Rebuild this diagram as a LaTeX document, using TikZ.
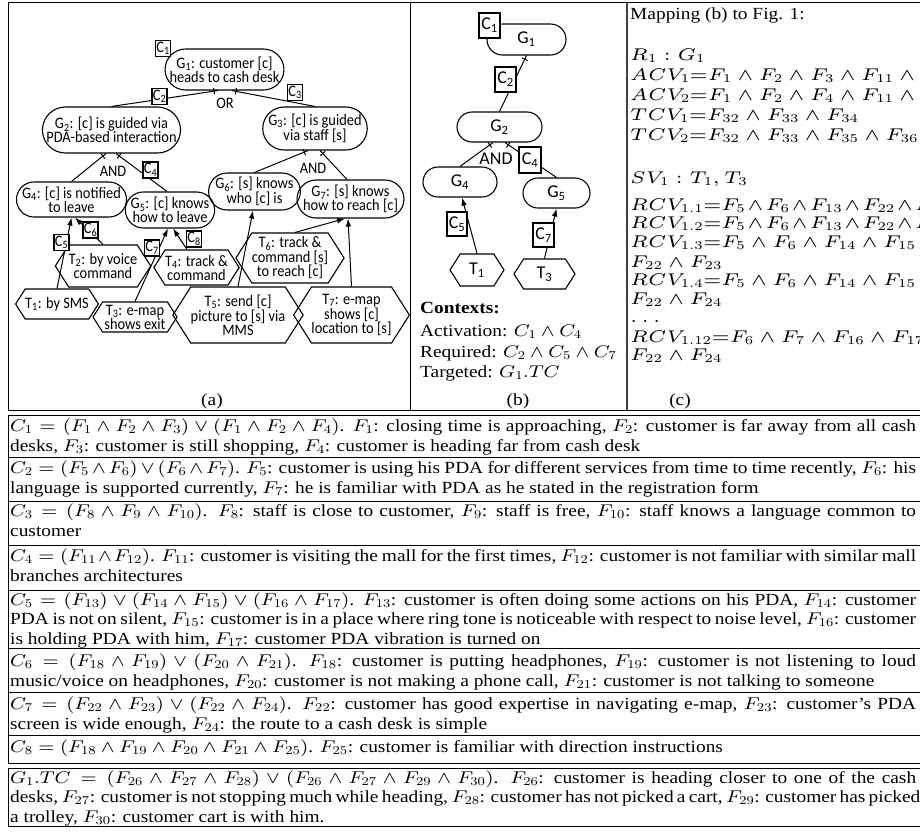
\documentclass[tikz,border=0pt]{standalone}
\usepackage[no-math]{fontspec}
\setmainfont{Liberation Serif}
\newfontfamily\carl[FakeStretch=0.9]{Carlito}
\newfontfamily\carlb{Carlito}
\usepackage{graphicx}
\usetikzlibrary{shapes.misc,shapes.symbols,arrows.meta,calc}
\DeclareFontShape{OML}{cmm}{m}{it}{<17><12><9>cmmi8 <17.01><12.01><9.01>cmmi6 <->cmmi10}{\skewchar\font=127 }
\DeclareFontShape{OT1}{cmr}{m}{n}{<17><12><9>cmr8 <17.01><12.01><9.01>cmr6 <->cmr10}{}
\DeclareFontShape{OMS}{cmsy}{m}{n}{<17><12><9>cmsy8 <17.01><12.01><9.01>cmsy6 <->cmsy10}{\skewchar\font=48 }
\DeclareMathSizes{17}{17}{12}{9}
\DeclareMathSizes{17.01}{17.01}{12.01}{9.01}

\newcommand\hs{1.14}
\newcommand\tfont{\fontsize{17}{20.5}\selectfont}
\newcommand\tfontb{\fontsize{17}{19.5}\selectfont}
\newcommand\cfont{\fontsize{17.01}{20.5}\selectfont}
\newcommand\jl[1]{\makebox[\linewidth][s]{#1}}
\newcommand\hsc[1]{\scalebox{\hs}[1]{#1}}
\newcommand\rowtext[1]{\hsc{\parbox[t]{794.7pt}{#1}}}
\newcommand\sbs[1]{\textsubscript{#1}}
\newcommand\tw{\mskip1.5mu{\wedge}\mskip1.5mu}
\newcommand\tickat[2]{\draw[link] ($(#1)!4pt!(#2)!3.2pt!90:(#2)$) -- ($(#1)!4pt!(#2)!3.2pt!-90:(#2)$);}

\tikzset{
  link/.style={line width=1pt},
  arr/.style={link,-{Latex[length=8pt,width=5.5pt]}},
  goal/.style={rounded rectangle, draw, line width=1.1pt, inner sep=0pt, align=center,
    font=\carl\fontsize{16}{14}\selectfont},
  task/.style={signal, signal to=west and east, signal pointer angle=115, draw, line width=1.1pt,
    inner sep=0pt, align=center, font=\carl\fontsize{16}{14}\selectfont},
  ctx/.style={rectangle, draw, fill=white, line width=1.1pt, inner sep=0pt,
    minimum width=15pt, minimum height=16pt, font=\carl\fontsize{16}{14}\selectfont},
  lbl/.style={inner sep=0pt, font=\carl\fontsize{16}{14}\selectfont},
  bgoal/.style={goal, font=\carlb\fontsize{18}{18}\selectfont},
  btask/.style={task, font=\carlb\fontsize{18}{18}\selectfont},
  bctx/.style={ctx, minimum width=21pt, minimum height=25pt, font=\carlb\fontsize{18}{18}\selectfont},
  blbl/.style={lbl, font=\carlb\fontsize{18}{18}\selectfont},
  txt/.style={inner sep=0pt, anchor=base west, font=\tfont},
  ctxt/.style={txt, font=\cfont},
  frame/.style={line width=0.8pt},
}

\begin{document}
\begin{tikzpicture}[x=1pt,y=-1pt]
\useasboundingbox (0,0) rectangle (920,836);

% ---------- frames ----------
\draw[frame] (8,2) rectangle (925,410);
\draw[frame] (410,2) -- (410,410);
\draw[line width=1.4pt, black!75] (627,2) -- (627,410);
\draw[frame] (8,415) rectangle (925,763);
\foreach \yy in {457.7,501.7,545,590,648,692,735}{\draw[frame] (8,\yy) -- (925,\yy);}
\draw[frame] (8,768) rectangle (925,826);

% ---------- panel (a) ----------
\node[goal, minimum width=115pt, minimum height=41pt] (G1) at (224.5,69.5) {G\sbs{1}: customer [c]\\heads to cash desk};
\node[goal, minimum width=137pt, minimum height=46pt] (G2) at (111.5,130) {G\sbs{2}: [c] is guided via\\PDA-based interaction};
\node[goal, minimum width=94pt, minimum height=43pt] (G3) at (315,128.5) {G\sbs{3}: [c] is guided\\via staff [s]};
\node[goal, minimum width=103pt, minimum height=35pt] (G4) at (71.5,199.5) {G\sbs{4}: [c] is notified\\to leave};
\node[goal, minimum width=86pt, minimum height=36pt] (G5) at (170,210) {G\sbs{5}: [c] knows\\how to leave};
\node[goal, minimum width=85pt, minimum height=37pt] (G6) at (254.5,191.5) {G\sbs{6}: [s] knows\\who [c] is};
\node[goal, minimum width=105pt, minimum height=38pt] (G7) at (350.5,199) {G\sbs{7}: [s] knows\\how to reach [c]};

\node[task, minimum width=82pt, minimum height=30pt] (T1) at (57,304) {T\sbs{1}: by SMS};
\node[task, minimum width=80pt, minimum height=42pt] (T2) at (103,266) {T\sbs{2}: by voice\\command};
\node[task, minimum width=84pt, minimum height=30pt] (T3) at (135,317) {T\sbs{3}: e-map\\shows exit};
\node[task, minimum width=83pt, minimum height=35pt] (T4) at (196.5,267.5) {T\sbs{4}: track \&\\command};
\node[task, minimum width=98pt, minimum height=56pt] (T5) at (238,315) {T\sbs{5}: send [c]\\picture to [s] via\\MMS};
\node[task, minimum width=84pt, minimum height=50pt] (T6) at (290,258) {T\sbs{6}: track \&\\command [s]\\to reach [c]};
\node[task, minimum width=89pt, minimum height=56pt] (T7) at (351.5,315) {T\sbs{7}: e-map\\shows [c]\\location to [s]};

\coordinate (a12) at ([xshift=-6.5pt]G1.south);
\coordinate (a13) at ([xshift=7.5pt]G1.south);
\coordinate (a24) at ([xshift=-5.5pt]G2.south);
\coordinate (a25) at ([xshift=4.5pt]G2.south);
\coordinate (a36) at ([xshift=-7pt]G3.south);
\coordinate (a37) at ([xshift=5pt]G3.south);
\coordinate (e25) at ([xshift=-3pt]G5.north);
\coordinate (e37) at ([xshift=-3.5pt]G7.north);

\draw[link] (a12) -- (G2.north); \tickat{a12}{G2.north}
\draw[link] (a13) -- (G3.north); \tickat{a13}{G3.north}
\draw[link] (a24) -- (G4.north); \tickat{a24}{G4.north}
\draw[link] (a25) -- (e25);      \tickat{a25}{e25}
\draw[link] (a36) -- (G6.north); \tickat{a36}{G6.north}
\draw[link] (a37) -- (e37);      \tickat{a37}{e37}

\draw[arr] (T1.north) -- (G4.south);
\draw[arr] (T2.north) -- ([xshift=3.5pt]G4.south);
\draw[arr] (T3.north) -- ([xshift=-2pt]G5.south);
\draw[arr] ([xshift=-9.5pt]T4.north) -- ([xshift=3pt]G5.south);
\draw[arr] (T5.north) -- ([xshift=-1.5pt]G6.south);
\draw[arr] ([xshift=5pt]T6.north) -- ([xshift=-5.5pt]G7.south);
\draw[arr] (T7.north) -- ([xshift=-2.5pt]G7.south);

\node[lbl] (OR) at (225,103) {OR};
\node[lbl] (AND1) at (113,171) {AND};
\node[lbl] (AND2) at (313,168) {AND};

\node[ctx] (C1a) at (163,48.5) {C\sbs{1}};
\node[ctx] (C2a) at (159.5,96.5) {C\sbs{2}};
\node[ctx] (C3a) at (295,92.5) {C\sbs{3}};
\node[ctx] (C4a) at (150.5,170) {C\sbs{4}};
\node[ctx] (C5a) at (61.5,242.5) {C\sbs{5}};
\node[ctx] (C6a) at (90.5,230) {C\sbs{6}};
\node[ctx] (C7a) at (152,248) {C\sbs{7}};
\node[ctx] (C8a) at (194,239) {C\sbs{8}};

\node[inner sep=0pt, anchor=base, font=\tfont] (capa) at (212,405) {\hsc{(a)}};

% ---------- panel (b) ----------
\node[bgoal, minimum width=79pt, minimum height=31pt] (bG1) at (526.5,39.5) {G\sbs{1}};
\node[bgoal, minimum width=85pt, minimum height=30pt] (bG2) at (499.5,127) {G\sbs{2}};
\node[bgoal, minimum width=74pt, minimum height=30pt] (bG4) at (460,182) {G\sbs{4}};
\node[bgoal, minimum width=67pt, minimum height=30pt] (bG5) at (556.5,193) {G\sbs{5}};
\node[btask, minimum width=54pt, minimum height=32pt] (bT1) at (477,270) {T\sbs{1}};
\node[btask, minimum width=61pt, minimum height=30pt] (bT3) at (544.5,274) {T\sbs{3}};

\coordinate (b24) at ([xshift=-6.5pt]bG2.south);
\coordinate (b25) at ([xshift=5.5pt]bG2.south);
\draw[link] (bG1.south) -- (bG2.north); \tickat{bG1.south}{bG2.north}
\draw[link] (b24) -- (bG4.north); \tickat{b24}{bG4.north}
\draw[link] (b25) -- (bG5.north); \tickat{b25}{bG5.north}
\draw[arr] (bT1.north) -- ([xshift=2pt]bG4.south);
\draw[arr] (bT3.north) -- (bG5.south);

\node[blbl] (bAND) at (496,159) {AND};
\node[bctx] (bC1) at (489.5,25.5) {C\sbs{1}};
\node[bctx] (bC2) at (505.5,79.5) {C\sbs{2}};
\node[bctx, minimum width=22pt, minimum height=26pt] (bC4) at (530,160) {C\sbs{4}};
\node[bctx, minimum width=20pt, minimum height=24pt] (bC5) at (457,224) {C\sbs{5}};
\node[bctx, minimum height=24pt] (bC7) at (543.5,235) {C\sbs{7}};

\node[txt] (ctxh) at (420,313) {\hsc{\textbf{Contexts:}}};
\node[txt] (ctxa) at (420,336) {\hsc{Activation: $C_1 \wedge C_4$}};
\node[txt] (ctxr) at (420,357) {\hsc{Required: $C_2 \wedge C_5 \wedge C_7$}};
\node[txt] (ctxt) at (420,377) {\hsc{Targeted: $G_1.TC$}};
\node[inner sep=0pt, anchor=base, font=\tfont] (capb) at (518,405) {\hsc{(b)}};

% ---------- panel (c) ----------
\node[ctxt] (m0) at (630,19) {\hsc{Mapping (b) to Fig. 1:}};
\node[ctxt] (m1) at (630,60) {\hsc{$R_1 : G_1$}};
\node[ctxt] (m2) at (630,80) {\hsc{$ACV_1{=}F_1 \wedge F_2 \wedge F_3 \wedge F_{11} \wedge F_{12}$}};
\node[ctxt] (m3) at (630,100) {\hsc{$ACV_2{=}F_1 \wedge F_2 \wedge F_4 \wedge F_{11} \wedge F_{12}$}};
\node[ctxt] (m4) at (630,120) {\hsc{$TCV_1{=}F_{32} \wedge F_{33} \wedge F_{34}$}};
\node[ctxt] (m5) at (630,140) {\hsc{$TCV_2{=}F_{32} \wedge F_{33} \wedge F_{35} \wedge F_{36}$}};
\node[ctxt] (m6) at (630,183) {\hsc{$SV_1 : T_1, T_3$}};
\node[ctxt] (m7) at (630,210) {\hsc{$RCV_{1.1}{=}F_5\tw F_6\tw F_{13}\tw F_{22}\tw F_{23}$}};
\node[ctxt] (m8) at (630,228) {\hsc{$RCV_{1.2}{=}F_5\tw F_6\tw F_{13}\tw F_{22}\tw F_{24}$}};
\node[ctxt] (m9) at (630,247) {\hsc{$RCV_{1.3}{=}F_5 \wedge F_6 \wedge F_{14} \wedge F_{15} \wedge{}$}};
\node[ctxt] (m10) at (630,267) {\hsc{$F_{22} \wedge F_{23}$}};
\node[ctxt] (m11) at (630,285) {\hsc{$RCV_{1.4}{=}F_5 \wedge F_6 \wedge F_{14} \wedge F_{15} \wedge{}$}};
\node[ctxt] (m12) at (630,304) {\hsc{$F_{22} \wedge F_{24}$}};
\node[ctxt] (m13) at (630,322) {\hsc{$\ldots$}};
\node[ctxt] (m14) at (630,342) {\hsc{$RCV_{1.12}{=}F_6 \wedge F_7 \wedge F_{16} \wedge F_{17} \wedge{}$}};
\node[ctxt] (m15) at (630,360) {\hsc{$F_{22} \wedge F_{24}$}};
\node[inner sep=0pt, anchor=base, font=\tfont] (capc) at (680,405) {\hsc{(c)}};

% ---------- table ----------
\node[txt] (r1) at (10,431) {\rowtext{\tfont
\jl{$C_1 = (F_1 \wedge F_2 \wedge F_3) \vee (F_1 \wedge F_2 \wedge F_4)$. $F_1$: closing time is approaching, $F_2$: customer is far away from all cash}\\
desks, $F_3$: customer is still shopping, $F_4$: customer is heading far from cash desk}};
\node[txt] (r2) at (10,473) {\rowtext{\tfont
\jl{$C_2 = (F_5 \wedge F_6) \vee (F_6 \wedge F_7)$. $F_5$: customer is using his PDA for different services from time to time recently, $F_6$: his}\\
language is supported currently, $F_7$: he is familiar with PDA as he stated in the registration form}};
\node[txt] (r3) at (10,516) {\rowtext{\tfont
\jl{$C_3 = (F_8 \wedge F_9 \wedge F_{10})$. $F_8$: staff is close to customer, $F_9$: staff is free, $F_{10}$: staff knows a language common to}\\
customer}};
\node[txt] (r4) at (10,561) {\rowtext{\tfont
\jl{$C_4 = (F_{11} \wedge F_{12})$. $F_{11}$: customer is visiting the mall for the first times, $F_{12}$: customer is not familiar with similar mall}\\
branches architectures}};
\node[txt] (r5) at (10,605) {\rowtext{\tfontb
\jl{$C_5 = (F_{13}) \vee (F_{14} \wedge F_{15}) \vee (F_{16} \wedge F_{17})$. $F_{13}$: customer is often doing some actions on his PDA, $F_{14}$: customer}\\
\jl{PDA is not on silent, $F_{15}$: customer is in a place where ring tone is noticeable with respect to noise level, $F_{16}$: customer}\\
is holding PDA with him, $F_{17}$: customer PDA vibration is turned on}};
\node[txt] (r6) at (10,666) {\rowtext{\tfont
\jl{$C_6 = (F_{18} \wedge F_{19}) \vee (F_{20} \wedge F_{21})$. $F_{18}$: customer is putting headphones, $F_{19}$: customer is not listening to loud}\\
music/voice on headphones, $F_{20}$: customer is not making a phone call, $F_{21}$: customer is not talking to someone}};
\node[txt] (r7) at (10,709) {\rowtext{\tfont
\jl{$C_7 = (F_{22} \wedge F_{23}) \vee (F_{22} \wedge F_{24})$. $F_{22}$: customer has good expertise in navigating e-map, $F_{23}$: customer's PDA}\\
screen is wide enough, $F_{24}$: the route to a cash desk is simple}};
\node[txt] (r8) at (10,752) {\rowtext{\tfont
$C_8 = (F_{18} \wedge F_{19} \wedge F_{20} \wedge F_{21} \wedge F_{25})$. $F_{25}$: customer is familiar with direction instructions}};
\node[txt] (r9) at (10,783) {\rowtext{\tfontb
\jl{$G_1.TC = (F_{26} \wedge F_{27} \wedge F_{28}) \vee (F_{26} \wedge F_{27} \wedge F_{29} \wedge F_{30})$. $F_{26}$: customer is heading closer to one of the cash}\\
\jl{desks, $F_{27}$: customer is not stopping much while heading, $F_{28}$: customer has not picked a cart, $F_{29}$: customer has picked}\\
a trolley, $F_{30}$: customer cart is with him.}};
\end{tikzpicture}
\end{document}
